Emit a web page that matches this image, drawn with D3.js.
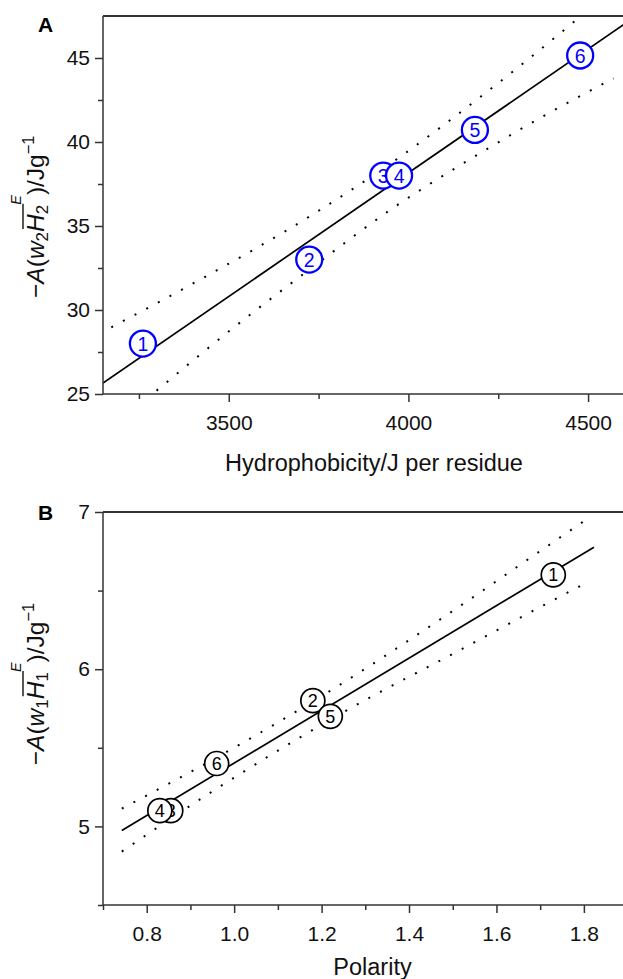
<!DOCTYPE html>
<html><head><meta charset="utf-8">
<script src="https://cdn.jsdelivr.net/npm/d3@7"></script>
<style>
body{margin:0;background:#fff}
svg{display:block}
text{font-family:"Liberation Sans",Arial,Helvetica,sans-serif}
</style>
</head><body>
<svg id="chart" width="623" height="979"></svg>
<script>
// ---------- Panel A data ----------
const labelsA = ["1","2","3","4","5","6"];
const hydrophobicity = [3261, 3724, 3930, 3974, 4185, 4478];
const enthalpyA = [28.0, 33.0, 38.0, 38.0, 40.72, 45.15];
const fitAx = [3150, 4600];
const fitAy = [25.65, 47.0];
const upperAx = [3173, 3422, 3735, 3981, 4199, 4325, 4478];
const upperAy = [28.97, 31.83, 35.70, 39.18, 42.66, 44.78, 47.46];
const lowerAx = [3299, 3517, 3735, 3953, 4199, 4385, 4571];
const lowerAy = [25.20, 29.01, 32.58, 36.01, 39.33, 41.65, 43.79];
const xTicksA = [3500, 4000, 4500];
const xMinorA = [3250, 3750, 4250];
const yTicksA = [25, 30, 35, 40, 45];
const yMinorA = [27.5, 32.5, 37.5, 42.5];

// ---------- Panel B data ----------
const labelsB = ["1","2","3","4","5","6"];
const polarity = [1.73, 1.18, 0.855, 0.83, 1.22, 0.96];
const enthalpyB = [6.6, 5.8, 5.1, 5.1, 5.7, 5.4];
const fitBx = [0.743, 1.823];
const fitBy = [4.974, 6.776];
const upperBx = [0.743, 1.006, 1.247, 1.487, 1.674, 1.808];
const upperBy = [5.113, 5.510, 5.910, 6.346, 6.702, 6.957];
const lowerBx = [0.743, 0.9565, 1.117, 1.300, 1.487, 1.674, 1.808];
const lowerBy = [4.840, 5.234, 5.510, 5.804, 6.078, 6.357, 6.553];
const xTicksB = [0.8, 1.0, 1.2, 1.4, 1.6, 1.8];
const xMinorB = [0.7, 0.9, 1.1, 1.3, 1.5, 1.7];
const yTicksB = [5, 6, 7];
const yMinorB = [4.5, 5.5, 6.5];

const svg = d3.select("#chart");
svg.append("rect").attr("width",623).attr("height",979).attr("fill","#fff");
const AXC = "#333";
const FONT = '"Liberation Sans",Arial,Helvetica,sans-serif';

function drawPanel(o){
  const x = d3.scaleLinear().domain(o.xDomain).range(o.xRange);
  const y = d3.scaleLinear().domain(o.yDomain).range(o.yRange);
  const g = svg.append("g");
  const left = o.xRange[0], bottom = o.yRange[0], top = o.yRange[1];
  const clipId = "clip" + o.id;
  svg.append("clipPath").attr("id", clipId).append("rect")
    .attr("x", left).attr("y", top).attr("width", 623-left).attr("height", bottom-top);
  const plot = g.append("g").attr("clip-path", `url(#${clipId})`);
  const line = d3.line().x(d=>x(d[0])).y(d=>y(d[1])).curve(d3.curveMonotoneX);

  [[o.upX,o.upY],[o.loX,o.loY]].forEach(([xs,ys])=>{
    plot.append("path").datum(xs.map((v,i)=>[v,ys[i]]))
      .attr("d", line).attr("fill","none").attr("stroke","#000")
      .attr("stroke-width",2).attr("stroke-dasharray","2,11.2");
  });
  plot.append("path").datum(o.fitX.map((v,i)=>[v,o.fitY[i]]))
    .attr("d", d3.line().x(d=>x(d[0])).y(d=>y(d[1])))
    .attr("fill","none").attr("stroke","#000").attr("stroke-width",1.7);

  const pts = o.px.map((v,i)=>({x:v, y:o.py[i], l:o.labels[i]}));
  const pg = plot.selectAll("g.pt").data(pts).join("g").attr("class","pt")
    .attr("transform", d=>`translate(${x(d.x)},${y(d.y)})`);
  pg.append("circle").attr("r", o.r).attr("fill","#fff")
    .attr("stroke", o.color).attr("stroke-width", o.sw);
  pg.append("text").text(d=>d.l).attr("text-anchor","middle").attr("dy","0.36em")
    .attr("font-size", o.ptFont).attr("fill", o.color);

  // axes
  const xa = g.append("g").attr("transform",`translate(0,${bottom})`)
    .call(d3.axisBottom(x).tickValues(o.xTicks).tickSize(8).tickPadding(13).tickFormat(o.xFmt));
  const xm = g.append("g").attr("transform",`translate(0,${bottom})`)
    .call(d3.axisBottom(x).tickValues(o.xMinor).tickSize(5).tickFormat(""));
  const ya = g.append("g").attr("transform",`translate(${left},0)`)
    .call(d3.axisLeft(y).tickValues(o.yTicks).tickSize(8).tickPadding(5).tickFormat(d3.format("d")));
  const ym = g.append("g").attr("transform",`translate(${left},0)`)
    .call(d3.axisLeft(y).tickValues(o.yMinor).tickSize(5).tickFormat(""));
  [xa,xm,ya,ym].forEach(a=>{
    a.select(".domain").remove();
    a.selectAll(".tick line").attr("stroke",AXC).attr("stroke-width",1.5);
    a.selectAll(".tick text").attr("font-size",21).attr("fill","#111").attr("font-family",FONT);
  });
  // frame
  g.append("line").attr("x1",left).attr("x2",left).attr("y1",top).attr("y2",bottom)
    .attr("stroke",AXC).attr("stroke-width",1.5);
  g.append("line").attr("x1",left).attr("x2",623).attr("y1",bottom).attr("y2",bottom)
    .attr("stroke",AXC).attr("stroke-width",1.6);
  g.append("line").attr("x1",left).attr("x2",623).attr("y1",top).attr("y2",top)
    .attr("stroke",AXC).attr("stroke-width",1.8);

  // titles
  g.append("text").attr("x",o.xTitlePos[0]).attr("y",o.xTitlePos[1]).attr("text-anchor","middle")
    .attr("font-size",23.5).attr("fill","#111").text(o.xTitle);
  g.append("text").attr("x",38).attr("y",o.panelY).attr("font-size",21).attr("font-weight","bold")
    .attr("fill","#000").text(o.id);
  yLabel(g, 43.5, o.yLabelCenter, o.sub);
}

function yLabel(g, bx, cy, sub){
  const lg = g.append("g").attr("transform",`translate(${bx},${cy}) rotate(-90)`);
  const t = lg.append("text").attr("text-anchor","middle").attr("font-size",24.5).attr("fill","#111");
  const parts = [
    {s:"\u2212", dy:0, fs:24.5},
    {s:"A", dy:0, fs:24.5, it:true},
    {s:"(", dy:0, fs:24.5},
    {s:"w", dy:0, fs:24.5, it:true},
    {s:sub, dy:4.5, fs:17},
    {s:"H", dy:-4.5, fs:24.5, it:true},
    {s:sub, dy:4.5, fs:17},
    {s:"E", dy:-27, fs:14.5, it:true},
    {s:")/Jg", dy:22.5, fs:24.5},
    {s:"\u22121", dy:-10, fs:16.5}
  ];
  parts.forEach(p=>{
    const ts = t.append("tspan").attr("dy",p.dy).attr("font-size",p.fs).text(p.s);
    if(p.it) ts.attr("font-style","italic");
  });
  const n = t.node();
  try{
    const eH = n.getExtentOfChar(5), e2 = n.getExtentOfChar(6);
    lg.append("line").attr("x1",eH.x+3).attr("x2",e2.x+e2.width+1)
      .attr("y1",-20.5).attr("y2",-20.5).attr("stroke","#111").attr("stroke-width",1.4);
  }catch(e){}
}

drawPanel({
  id:"A", xDomain:[3150,4600], xRange:[103,624], yDomain:[25,47.5], yRange:[394,16],
  upX:upperAx, upY:upperAy, loX:lowerAx, loY:lowerAy, fitX:fitAx, fitY:fitAy,
  px:hydrophobicity, py:enthalpyA, labels:labelsA, color:"#0000ff", r:13, sw:2.3, ptFont:19.5,
  xTicks:xTicksA, xMinor:xMinorA, yTicks:yTicksA, yMinor:yMinorA, xFmt:d3.format("d"),
  xTitle:"Hydrophobicity/J per residue", xTitlePos:[374,471], panelY:32,
  yLabelCenter:216.7, sub:"2"
});
drawPanel({
  id:"B", xDomain:[0.7,1.9], xRange:[103,627.6], yDomain:[4.5,7], yRange:[905,512],
  upX:upperBx, upY:upperBy, loX:lowerBx, loY:lowerBy, fitX:fitBx, fitY:fitBy,
  px:polarity, py:enthalpyB, labels:labelsB, color:"#000", r:12, sw:1.7, ptFont:18,
  xTicks:xTicksB, xMinor:xMinorB, yTicks:yTicksB, yMinor:yMinorB, xFmt:d3.format(".1f"),
  xTitle:"Polarity", xTitlePos:[372.5,975], panelY:520,
  yLabelCenter:684, sub:"1"
});
</script>
</body></html>
